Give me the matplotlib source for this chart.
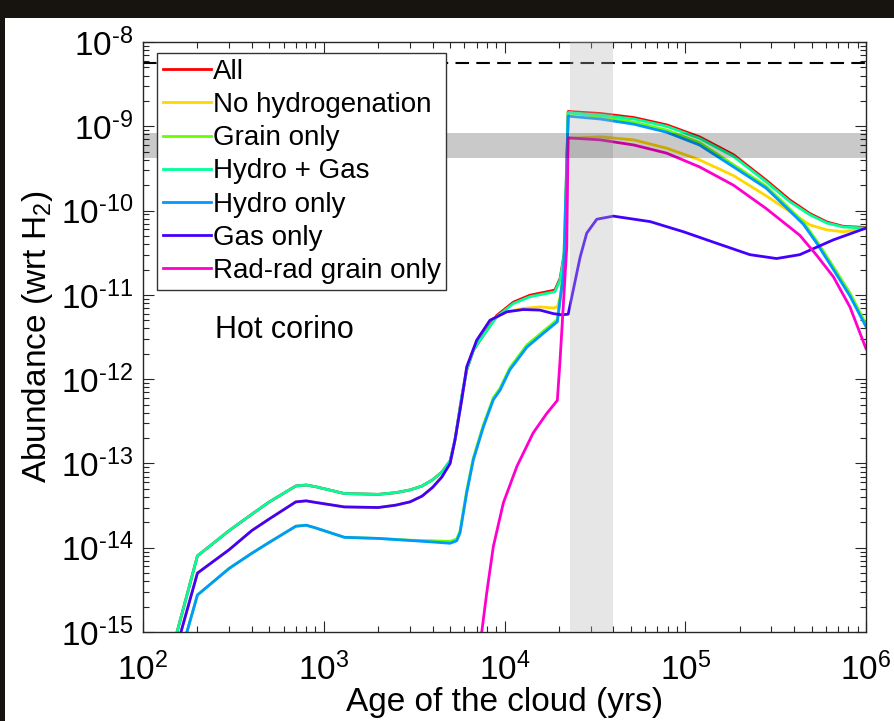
import numpy as np
import matplotlib
matplotlib.use('Agg')
import matplotlib.pyplot as plt
from matplotlib.patches import Rectangle
from matplotlib.ticker import LogLocator, NullFormatter, FuncFormatter

# --- data (age in yrs, abundance wrt H2) ---
t_hg = [150, 200, 300, 400, 500, 700, 800, 900, 1300, 2000,
        2500, 3000, 3500, 4000, 4500, 5000, 5320, 5800, 6180, 6720,
        7320, 9060, 1.12e4, 1.38e4, 1.9e4, 2.03e4, 2.16e4, 2.25e4,
        3.4e4, 5.2e4, 7.9e4, 1.2e5, 1.85e5, 2.8e5, 3.8e5, 4.9e5, 6.1e5, 7.5e5, 1e6]
hydro_gas = [8e-16, 8e-15, 1.6e-14, 2.5e-14, 3.5e-14, 5.4e-14, 5.55e-14, 5.3e-14, 4.4e-14, 4.3e-14,
             4.5e-14, 4.85e-14, 5.4e-14, 6.4e-14, 7.9e-14, 1.07e-13, 1.9e-13, 6.2e-13, 1.29e-12, 2.2e-12,
             2.9e-12, 5.5e-12, 7.9e-12, 9.5e-12, 1.09e-11, 1.5e-11, 3.4e-11, 1.45e-9,
             1.36e-9, 1.22e-9, 1.0e-9, 7.2e-10, 4.4e-10, 2.2e-10, 1.27e-10, 8.9e-11, 7.1e-11, 6.4e-11, 6.2e-11]
all_on = [8e-16, 8e-15, 1.6e-14, 2.5e-14, 3.5e-14, 5.4e-14, 5.55e-14, 5.3e-14, 4.4e-14, 4.3e-14,
          4.5e-14, 4.85e-14, 5.4e-14, 6.4e-14, 7.9e-14, 1.07e-13, 1.9e-13, 6.2e-13, 1.29e-12, 2.2e-12,
          2.9e-12, 5.7e-12, 8.2e-12, 9.9e-12, 1.14e-11, 1.56e-11, 3.5e-11, 1.5e-9,
          1.42e-9, 1.27e-9, 1.04e-9, 7.5e-10, 4.6e-10, 2.3e-10, 1.33e-10, 9.2e-11, 7.3e-11, 6.5e-11, 6.3e-11]

t_h = [160, 200, 300, 400, 500, 700, 800, 900, 1300, 2000,
       3000, 4000, 5000, 5440, 5675, 6180, 6720, 7630, 8670, 9445,
       1.07e4, 1.33e4, 1.64e4, 1.96e4, 2.12e4, 2.25e4,
       3.4e4, 5.2e4, 7.9e4, 1.2e5, 1.85e5, 2.8e5, 3.6e5, 4.5e5, 5.34e5, 6.6e5, 8.15e5, 1e6]
hydro_only = [5.1e-16, 2.75e-15, 5.7e-15, 8.6e-15, 1.16e-14, 1.8e-14, 1.85e-14, 1.72e-14, 1.33e-14, 1.29e-14,
              1.22e-14, 1.17e-14, 1.13e-14, 1.21e-14, 1.5e-14, 4.5e-14, 1.1e-13, 2.7e-13, 5.7e-13, 7.4e-13,
              1.29e-12, 2.4e-12, 3.5e-12, 4.8e-12, 1.8e-11, 1.32e-9,
              1.22e-9, 1.06e-9, 8.5e-10, 6.0e-10, 3.3e-10, 1.85e-10, 1.1e-10, 6.9e-11, 4.1e-11, 2.0e-11, 9.7e-12, 4.2e-12]
grain_only = [5.1e-16, 2.75e-15, 5.7e-15, 8.6e-15, 1.16e-14, 1.8e-14, 1.85e-14, 1.72e-14, 1.33e-14, 1.29e-14,
              1.23e-14, 1.21e-14, 1.19e-14, 1.27e-14, 1.58e-14, 4.8e-14, 1.16e-13, 2.85e-13, 6.0e-13, 7.8e-13,
              1.36e-12, 2.55e-12, 3.7e-12, 5.1e-12, 1.9e-11, 1.45e-9,
              1.3e-9, 1.12e-9, 9.0e-10, 6.4e-10, 3.5e-10, 1.95e-10, 1.16e-10, 7.3e-11, 4.35e-11, 2.15e-11, 1.05e-11, 4.5e-12]

t_g = [150, 200, 300, 400, 500, 700, 800, 900, 1300, 2000,
       2500, 3000, 3500, 4000, 4500, 5000, 5320, 5800, 6180, 7020,
       8310, 1.03e4, 1.27e4, 1.57e4, 1.86e4, 2.07e4, 2.25e4, 2.4e4, 2.62e4, 2.85e4,
       3.24e4, 4.0e4, 6.4e4, 9.8e4, 1.49e5, 2.28e5, 3.2e5, 4.3e5, 6.6e5, 1e6]
gas_only = [5.5e-16, 5.0e-15, 9.5e-15, 1.6e-14, 2.2e-14, 3.5e-14, 3.6e-14, 3.45e-14, 3.05e-14, 3.0e-14,
            3.2e-14, 3.5e-14, 4.1e-14, 5.2e-14, 6.9e-14, 1.0e-13, 1.9e-13, 5.7e-13, 1.4e-12, 2.9e-12,
            5.0e-12, 6.3e-12, 6.7e-12, 6.6e-12, 6.0e-12, 5.8e-12, 5.9e-12, 1.14e-11, 2.8e-11, 5.4e-11,
            7.9e-11, 8.6e-11, 7.4e-11, 5.6e-11, 4.1e-11, 3.0e-11, 2.7e-11, 3.0e-11, 4.5e-11, 6.2e-11]

t_noh = [150, 200, 300, 400, 500, 700, 800, 900, 1300, 2000,
         2500, 3000, 3500, 4000, 4500, 5000, 5320, 5800, 6180, 7020,
         8310, 1.03e4, 1.27e4, 1.57e4, 1.86e4, 1.96e4, 2.05e4, 2.15e4, 2.25e4,
         3.4e4, 5.2e4, 7.9e4, 1.2e5, 1.85e5, 2.8e5, 3.8e5, 4.9e5, 6.1e5, 7.5e5, 1e6]
no_hydro = [5.5e-16, 5.0e-15, 9.5e-15, 1.6e-14, 2.2e-14, 3.5e-14, 3.6e-14, 3.45e-14, 3.05e-14, 3.0e-14,
            3.2e-14, 3.5e-14, 4.1e-14, 5.2e-14, 6.9e-14, 1.0e-13, 1.9e-13, 5.7e-13, 1.4e-12, 2.9e-12,
            5.0e-12, 6.3e-12, 6.9e-12, 7.2e-12, 7.0e-12, 7.2e-12, 1.0e-11, 2.5e-11, 7.2e-10,
            7.5e-10, 6.9e-10, 5.5e-10, 4.0e-10, 2.6e-10, 1.5e-10, 9.7e-11, 6.75e-11, 5.9e-11, 5.6e-11, 6.2e-11]

t_rr = [7400, 7970, 8670, 9850, 1.17e4, 1.44e4, 1.71e4, 1.96e4, 2.03e4, 2.21e4, 2.25e4,
        3.4e4, 5.2e4, 7.9e4, 1.2e5, 1.85e5, 2.8e5, 4.3e5, 5.3e5, 6.6e5, 8.15e5, 1e6]
radrad = [8.3e-16, 2.9e-15, 1.03e-14, 3.4e-14, 9.2e-14, 2.3e-13, 3.9e-13, 5.6e-13, 1.7e-12, 3.7e-11, 7.3e-10,
          6.9e-10, 6.0e-10, 4.8e-10, 3.3e-10, 2.0e-10, 1.06e-10, 5.1e-11, 3.0e-11, 1.64e-11, 7.2e-12, 2.3e-12]

obs_level = 5.6e-9            # dashed line
obs_band = (4.2e-10, 8.3e-10)  # horizontal grey band
age_band = (2.3e4, 4.0e4)      # vertical grey band

plt.rcParams['font.family'] = ['Liberation Sans', 'DejaVu Sans']
plt.rcParams['mathtext.fontset'] = 'custom'
plt.rcParams['mathtext.rm'] = 'Liberation Sans'
plt.rcParams['mathtext.it'] = 'Liberation Sans:italic'
plt.rcParams['axes.unicode_minus'] = False

fig = plt.figure(figsize=(8.95, 7.21), dpi=100, facecolor='#17130f')
fig.add_artist(Rectangle((5 / 895, 0), 1, 703 / 721, transform=fig.transFigure,
                         facecolor='white', edgecolor='none', zorder=-1))
ax = fig.add_axes([0.1598, 0.1234, 0.8078, 0.8183])

series = [
    (t_hg, all_on, '#ff0000', 'All'),
    (t_noh, no_hydro, '#ffd700', 'No hydrogenation'),
    (t_h, grain_only, '#66ff00', 'Grain only'),
    (t_hg, hydro_gas, '#00ff99', 'Hydro + Gas'),
    (t_h, hydro_only, '#0099ff', 'Hydro only'),
    (t_g, gas_only, '#4400ff', 'Gas only'),
    (t_rr, radrad, '#ff00cc', 'Rad-rad grain only'),
]
for t, v, c, lab in series:
    ax.plot(t, v, color=c, lw=2.0, label=lab)

ax.axhline(obs_level, color='black', lw=1.5, ls=(0, (6.5, 3.5)), zorder=2)
ax.axvspan(*age_band, color='#b4b4b4', alpha=0.33, lw=0, zorder=3)
ax.axhspan(*obs_band, color='black', alpha=0.21, lw=0, zorder=3.1)


def pow10(v, pos):
    e = int(round(np.log10(v)))
    s = str(e).replace('-', r'\text{-}')
    return r'$\mathdefault{10^{%s}}$' % s


ax.set_xscale('log')
ax.set_yscale('log')
ax.set_xlim(1e2, 1e6)
ax.set_ylim(1e-15, 1e-8)
for axis in (ax.xaxis, ax.yaxis):
    axis.set_major_locator(LogLocator(base=10, numticks=20))
    axis.set_major_formatter(FuncFormatter(pow10))
    axis.set_minor_locator(LogLocator(base=10, subs=np.arange(2, 10), numticks=100))
    axis.set_minor_formatter(NullFormatter())
ax.tick_params(which='both', direction='in', top=True, right=True,
               color='#262626', width=0.8, labelsize=24, labelcolor='black')
ax.tick_params(which='major', length=8)
ax.tick_params(axis='x', which='major', pad=15)
ax.tick_params(axis='y', which='major', pad=7)
ax.tick_params(which='minor', length=4)
for s in ax.spines.values():
    s.set_color('#262626')
    s.set_linewidth(1.0)

ax.set_xlabel('Age of the cloud (yrs)', fontsize=24, labelpad=0)
ax.set_ylabel('Abundance (wrt H$_2$)', fontsize=24, labelpad=4)

ax.text(0.0996, 0.512, 'Hot corino', transform=ax.transAxes,
        fontsize=22, va='center', ha='left')

leg = ax.legend(loc='upper left', bbox_to_anchor=(0.0194, 0.981), borderaxespad=0,
                fontsize=20, frameon=True, fancybox=False, edgecolor='#333333',
                framealpha=1, handlelength=1.73, handletextpad=0.07,
                labelspacing=0.26, borderpad=0.2)
leg.get_frame().set_linewidth(1.0)
leg.set_zorder(5)

fig.savefig('out.png', dpi=100, facecolor=fig.get_facecolor())
